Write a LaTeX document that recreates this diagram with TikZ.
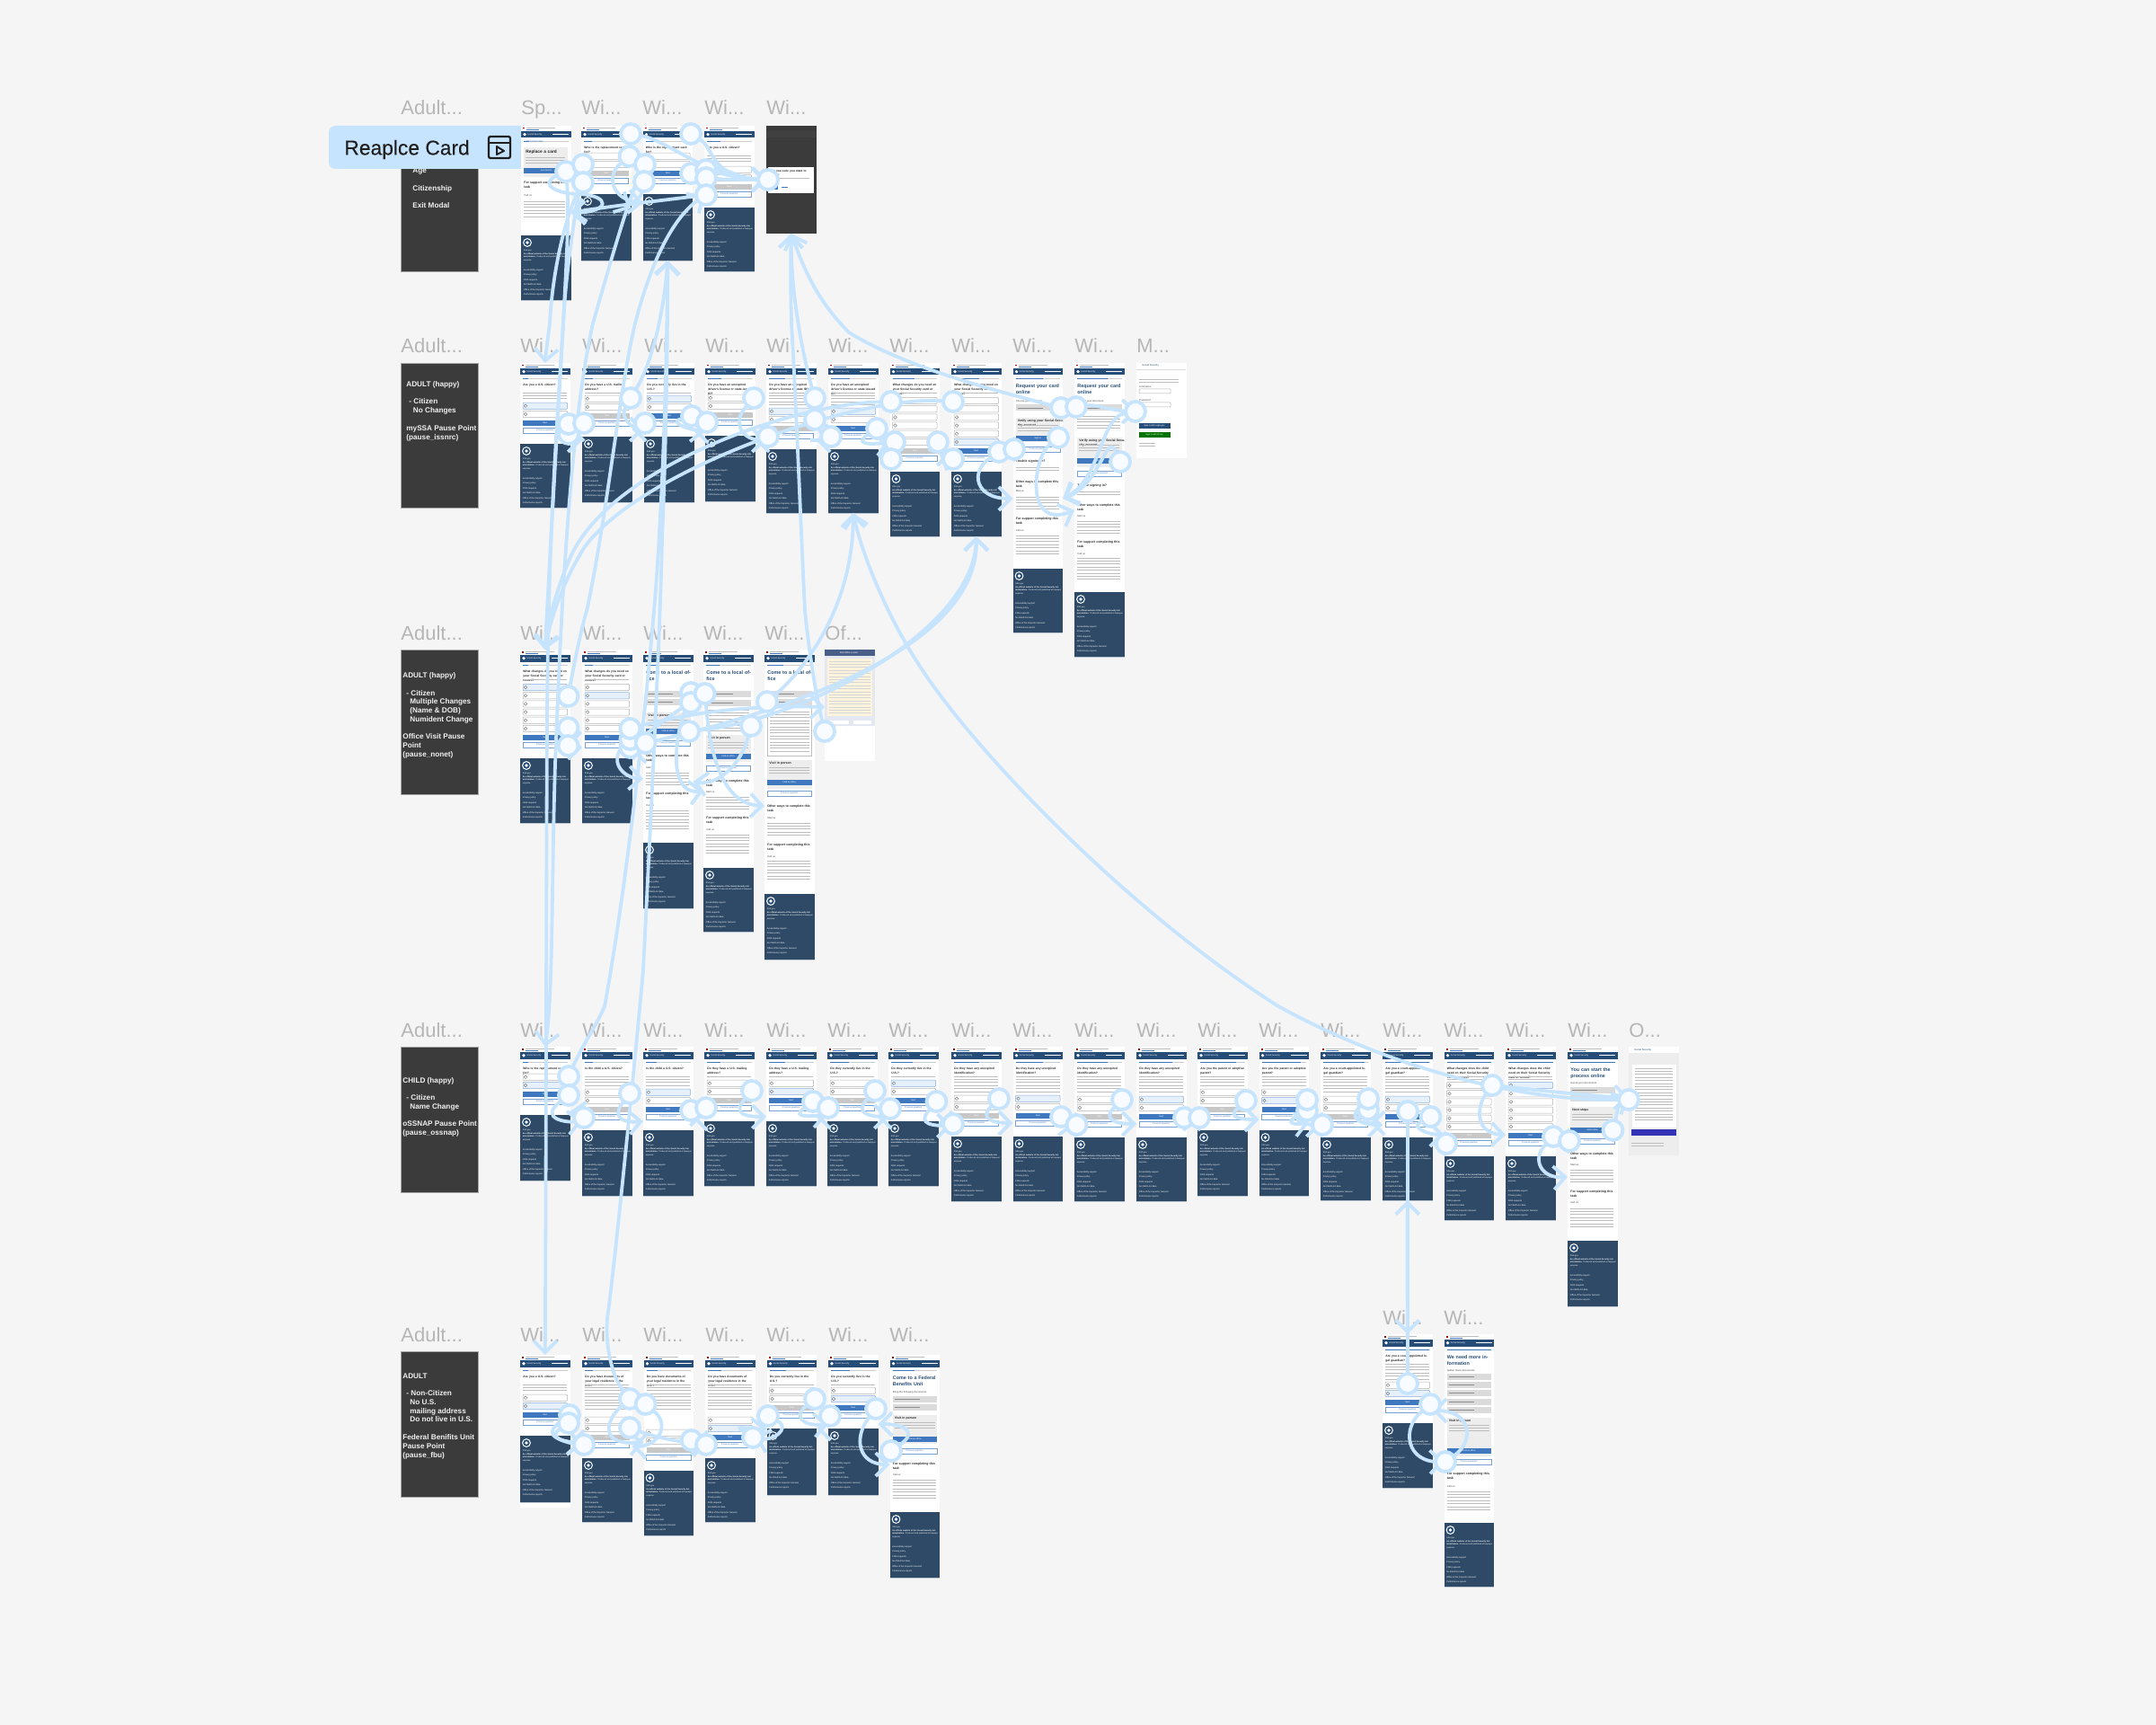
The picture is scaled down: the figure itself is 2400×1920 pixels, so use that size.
\documentclass[tikz,border=0pt]{standalone}
\usepackage{fontspec}
\setmainfont{Liberation Sans}
\newfontfamily\medf[FakeBold=0.25]{Liberation Sans}
\usetikzlibrary{arrows.meta}
\pgfdeclarelayer{scr}\pgfdeclarelayer{conn}\pgfsetlayers{scr,conn,main}
\definecolor{bgc}{HTML}{F5F5F5}
\definecolor{cblue}{HTML}{C6E4FD}
\definecolor{cfill}{HTML}{F8FBFF}
\definecolor{navy}{HTML}{2E4A66}
\definecolor{band}{HTML}{264D78}
\definecolor{dark}{HTML}{3B3B3B}
\definecolor{lab}{HTML}{B6B6B6}
\definecolor{ssab}{HTML}{3F78BE}
\definecolor{sel}{HTML}{E6F0FA}
\definecolor{ofh}{HTML}{4A5F87}
\definecolor{ofy}{HTML}{FDF3DC}
\definecolor{ofb}{HTML}{E4E8F2}
\newcounter{nn}
\newcommand\tn[2][]{\stepcounter{nn}\node[#1] (t\arabic{nn}) #2;}
\tikzset{
 screen/.style={fill=white,anchor=north west,inner sep=0pt,outer sep=0pt,minimum width=27.75pt},
 darkbox/.style={fill=dark,draw=gray!70,line width=.3pt,anchor=north west,inner sep=0pt,outer sep=0pt,minimum width=43.25pt},
 lbl/.style={text=lab,font=\fontsize{11}{13}\selectfont,anchor=base west,inner sep=0pt},
 dtx/.style={text=white!94!black,font=\fontsize{4.1}{5}\selectfont\bfseries,anchor=west,inner sep=0pt},
 qt/.style={anchor=north west,inner sep=0pt,text width=24.75pt,align=left,text=black!85,font=\fontsize{1.65}{2.4}\selectfont\bfseries},
 bigt/.style={anchor=north west,inner sep=0pt,text width=26pt,align=left,text=band,font=\fontsize{2.7}{3.5}\selectfont\bfseries},
 hd/.style={anchor=north west,inner sep=0pt,text width=26pt,align=left,text=black!85,font=\fontsize{1.75}{2.4}\selectfont\bfseries},
 small/.style={anchor=west,inner sep=0pt,text=black!70,font=\fontsize{1.4}{1.8}\selectfont},
 ftx/.style={anchor=north west,inner sep=0pt,text width=25.5pt,align=left,text=white,font=\fontsize{1.12}{1.75}\selectfont},
 lnk/.style={anchor=north west,inner sep=0pt,align=left,text=white,font=\fontsize{1.2}{2.75}\selectfont},
 bt/.style={inner sep=0pt,text=white,font=\fontsize{1.2}{1.6}\selectfont},
 bp/.style={inner sep=0pt,text=ssab,font=\fontsize{1.2}{1.6}\selectfont},
 tl/.style={draw=black!26,line width=.4pt},
 optb/.style={draw=black!30,fill=white,line width=.25pt,rounded corners=.4pt},
 opts/.style={draw=ssab!60,fill=sel,line width=.25pt,rounded corners=.4pt},
 dot/.style={circle,draw=cblue,fill=cfill,line width=1.9pt,minimum size=11pt,inner sep=0pt},
 conn/.style={draw=cblue,line width=1.9pt,line cap=round,-{Straight Barb[length=6.5pt,width=13pt]}},
}
\newcommand\para[4]{\foreach \i in {1,...,#4}{\draw[tl] ({#1},{#2+3.4*(\i-1)}) -- ++({#3},0);}}
\newcommand\hdr[2]{%
 \fill[red!70!black] ({#1+2},{#2+2}) rectangle ++(2,1.5);
 \draw[tl,line width=.3pt] ({#1+6},{#2+2.5}) -- ++(32,0);
 \draw[draw=ssab,line width=.3pt] ({#1+6},{#2+4.5}) -- ++(14,0);
 \fill[band] ({#1},{#2+6}) rectangle ({#1+55.5},{#2+13.5});
 \fill[white] ({#1+4},{#2+9.7}) circle[radius=.9pt];
 \tn[bt,anchor=west]{at ({#1+7},{#2+9.7}) {Social Security}}
 \draw[white,line width=.3pt] ({#1+35},{#2+9.7}) -- ++(18,0);
 \pgfmathsetmacro\pr{min(49.5,6+(#1-579)*0.045)}
 \draw[black!20,line width=.35pt] ({#1+3},{#2+17}) -- ++(49.5,0);
 \draw[ssab,line width=.45pt] ({#1+3},{#2+17}) -- ++(\pr,0);
}
\newcommand\ftr[3]{%
 \fill[navy] ({#1},{#2}) rectangle ({#1+55.5},{#3});
 \draw[white!70!navy,line width=.3pt] ({#1},{#3}) -- ++(55.5,0);
 \draw[white,fill=band,line width=.5pt] ({#1+7},{#2+8}) circle[radius=2.2pt];
 \fill[white] ({#1+7},{#2+8}) circle[radius=.9pt];
 \tn[ftx]{at ({#1+2.5},{#2+16}) {SSA.gov\\\textbf{An official website of the Social Security Administration.} Produced and published at taxpayer expense.}}
 \tn[lnk]{at ({#1+2.5},{#2+37}) {Accessibility support\\Privacy policy\\FOIA requests\\No FEAR Act data\\Office of the Inspector General\\Performance reports}}
}
\newcommand\btn[3]{\fill[ssab] ({#1+3},{#2-3}) rectangle ({#1+52.5},{#2+3}); \tn[bt]{at ({#1+27.75},{#2}) {#3}}}
\newcommand\gbtn[2]{\fill[black!22] ({#1+3},{#2-3}) rectangle ({#1+52.5},{#2+3}); \tn[bt]{at ({#1+27.75},{#2}) {Next}}}
\newcommand\prevb[2]{\draw[ssab!70,fill=white,line width=.25pt] ({#1+3},{#2-3}) rectangle ({#1+52.5},{#2+3}); \tn[bp]{at ({#1+27.75},{#2}) {Previous question}}}
\newcommand\ddn[2]{\fill[black!14] ({#1+3},{#2-3.5}) rectangle ({#1+52.5},{#2+3.5}); \draw[tl,line width=.3pt,draw=black!45] ({#1+5},{#2}) -- ++(28,0);}
\newcommand\pnl[4]{\fill[black!7] ({#1+3},{#2}) rectangle ({#1+52.5},{#3}); \tn[hd]{at ({#1+5},{#2+2}) {#4}}\para{#1+5}{#2+8}{45}{3}}
\newcommand\hdg[3]{\tn[hd]{at ({#1+3},{#2}) {#3}}}
\newcommand\lbb[3]{\tn[small]{at ({#1+3},{#2}) {#3}}}
% question screen: id x top ftop fbot title n sel act
\newcommand\Q[9]{%
 \node[screen,minimum height={(#5-#3)*0.5pt}] (#1) at (#2,#3) {};
 \hdr{#2}{#3}
 \tn[qt]{at ({#2+3},{#3+23}) {#6}}
 \pgfmathtruncatemacro\nl{min(9,max(0,(#4-23-10-9.2*(#7-1)-4-(#3+32))/3.4))}
 \ifnum\nl>0 \para{#2+3}{#3+33}{49}{\nl}\fi
 \foreach \k in {1,...,#7}{%
  \pgfmathsetmacro\yy{#4-33-9.2*(#7-\k)}
  \ifnum\k=#8 \path[opts] ({#2+3},{\yy-3.6}) rectangle ({#2+52.5},{\yy+3.6});
  \else \path[optb] ({#2+3},{\yy-3.6}) rectangle ({#2+52.5},{\yy+3.6}); \fi
  \draw[black!50,line width=.25pt] ({#2+6},{\yy}) circle[radius=.9pt];
 }
 \ifnum#9=1 \btn{#2}{#4-23}{Next}\else\gbtn{#2}{#4-23}\fi
 \prevb{#2}{#4-15}
 \ftr{#2}{#4}{#5}
}
% long page: id x top ftop fbot title
\newcommand\LP[6]{%
 \node[screen,minimum height={(#5-#3)*0.5pt}] (#1) at (#2,#3) {};
 \hdr{#2}{#3}
 \tn[bigt]{at ({#2+3},{#3+23}) {#6}}
 \ftr{#2}{#4}{#5}
}
\newcommand\dt[3]{\tn[dtx]{at (#1,#2) {#3}}}
\newcommand\dd[3]{\node[dot] (#1) at (#2,#3) {};}
\newcommand\cw[5]{\draw[conn] (#1) .. controls #2 and #3 .. (#4.west |- 0,#5);}
\newcommand\ce[5]{\draw[conn] (#1) .. controls #2 and #3 .. (#4.east |- 0,#5);}
\newcommand\cs[4]{\draw[conn] (#1) .. controls #2 and #3 .. (#4.south);}
\newcommand\cp[3]{\draw[conn] (#1) #2 (#3);}
\newcommand\wilabel[2]{\tn[lbl]{at (#1,#2) {Wi{.}{.}{.}}}}
\newcommand\otlabel[3]{\tn[lbl]{at (#1,#2) {#3{.}{.}{.}}}}
\begin{document}
\begin{tikzpicture}[x=0.5pt,y=-0.5pt]
\useasboundingbox (0,0) rectangle (2400,1920);
\begin{pgfonlayer}{scr}
\fill[bgc] (0,0) rectangle (2400,1920);
% ---------- labels
\foreach \yy in {128,393,712,1154,1493}{\otlabel{446}{\yy}{Adult}}
\otlabel{580}{128}{Sp}
\foreach \xx in {647,715,784,853}{\wilabel{\xx}{128}}
\foreach \xx in {579,648,717,785,853,922,990,1059,1127,1196}{\wilabel{\xx}{393}}
\otlabel{1265}{393}{M}
\foreach \xx in {579,648,716,783,851}{\wilabel{\xx}{712}}
\otlabel{918}{712}{Of}
\foreach \xx in {579,648,716,784,853,921,989,1059,1127,1196,1265,1333,1401,1470,1539,1607,1676,1745}{\wilabel{\xx}{1154}}
\otlabel{1813}{1154}{O}
\foreach \xx in {579,648,716,785,853,922,990}{\wilabel{\xx}{1493}}
\foreach \xx in {1539,1607}{\wilabel{\xx}{1474}}
% ---------- dark boxes
\node[darkbox,minimum height=80.5pt] (k1) at (446,141) {};
\dt{459}{191}{Age}\dt{459}{210}{Citizenship}\dt{459}{229}{Exit Modal}
\node[darkbox,minimum height=80.5pt] (k2) at (446,404) {};
\dt{452}{428}{ADULT (happy)}\dt{455}{447}{- Citizen}\dt{459.5}{457}{No Changes}\dt{452}{477}{mySSA Pause Point}\dt{452}{487}{(pause\_issnrc)}
\node[darkbox,minimum height=80.5pt] (k3) at (446,723) {};
\dt{448}{752}{ADULT (happy)}\dt{452}{772}{- Citizen}\dt{456}{781.5}{Multiple Changes}\dt{456}{791}{(Name \& DOB)}\dt{456}{801}{Numident Change}\dt{448}{820}{Office Visit Pause}\dt{448}{830}{Point}\dt{448}{840}{(pause\_nonet)}
\node[darkbox,minimum height=81pt] (k4) at (446,1165) {};
\dt{448}{1203}{CHILD (happy)}\dt{452}{1222}{- Citizen}\dt{456}{1232}{Name Change}\dt{448}{1251}{oSSNAP Pause Point}\dt{448}{1261}{(pause\_ossnap)}
\node[darkbox,minimum height=81pt] (k5) at (446,1504) {};
\dt{448}{1532}{ADULT}\dt{452}{1551}{- Non-Citizen}\dt{456}{1561}{No U.S.}\dt{456}{1571}{mailing address}\dt{456}{1580}{Do not live in U.S.}\dt{448}{1600}{Federal Benifits Unit}\dt{448}{1610}{Pause Point}\dt{448}{1620}{(pause\_fbu)}
% ---------- row 1
\LP{s11}{580}{140}{262}{334}{}
\tn[small]{at (583,158) {\textcolor{ssab}{< Social Security}}}
\fill[black!7] (583,164) rectangle (632,197);
\tn[hd,font=\fontsize{2.4}{3}\selectfont\bfseries]{at (585,167) {Replace a card}}
\para{585}{175}{44}{3}\btn{580}{190}{Get started}
\hdg{580}{202}{For support completing this task}\lbb{580}{218}{Call us}\para{583}{224}{46}{6}
\Q{s12}{647}{140}{216}{290}{Who is the replacement card for?}{2}{0}{0}
\Q{s13}{715.5}{140}{216}{290}{Who is the replacement card for?}{2}{0}{1}
\Q{s14}{784}{140}{231}{302}{Are you a U.S. citizen?}{2}{0}{0}
\node[screen,fill=dark,minimum height=60pt] (s15) at (853,140) {};
\fill[black!75] (853,146) rectangle (908.5,153);
\fill[white] (855,186) rectangle (906,215);
\tn[qt,text width=24pt]{at (857,189) {Are you sure you want to leave?}}
\para{857}{198}{44}{1}
\fill[ssab] (857,205) rectangle (866,211);\draw[ssab,line width=.4pt] (870,208) -- ++(7,0);
% ---------- row 2
\Q{s21}{579}{404}{494}{565}{Are you a U.S. citizen?}{2}{1}{1}
\Q{s22}{648}{404}{486}{559}{Do you have a U.S. mailing address?}{2}{0}{0}
\Q{s23}{717}{404}{486}{559}{Do you currently live in the U.S.?}{2}{1}{1}
\Q{s24}{785}{404}{485}{558}{Do you have an unexpired driver's license or state-issued ID?}{2}{0}{0}
\Q{s25}{853}{404}{500}{571}{Do you have an unexpired driver's license or state ID?}{2}{1}{0}
\Q{s26}{922}{404}{500}{571}{Do you have an unexpired driver's license or state-issued ID?}{2}{1}{1}
\Q{s27}{990.5}{404}{525}{597}{What changes do you need on your Social Security card or record?}{6}{0}{0}
\Q{s28}{1059}{404}{525}{597}{What changes do you need on your Social Security card or record?}{6}{6}{1}
\LP{s29}{1127.5}{404}{633}{704}{Request your card online}
\ddn{1127.5}{454}\lbb{1127.5}{447}{Choose your document}\pnl{1127.5}{465}{492}{Verify using your Social Security account}\btn{1127.5}{488}{Sign in}\prevb{1127.5}{500}
\hdg{1127.5}{512}{Trouble signing in?}\para{1130.5}{520}{48}{2}\hdg{1127.5}{535}{Other ways to complete this task}\lbb{1127.5}{547}{Mail us}\para{1130.5}{553}{48}{5}
\hdg{1127.5}{576}{For support completing this task}\lbb{1127.5}{590}{Call us}\para{1130.5}{596}{48}{7}
\LP{s210}{1196}{404}{659}{731}{Request your card online}
\ddn{1196}{454}\lbb{1196}{447}{Choose your document}\para{1199}{463}{48}{5}\pnl{1196}{487}{520}{Verify using your Social Security account}\btn{1196}{513}{Sign in}\prevb{1196}{527}
\hdg{1196}{539}{Trouble signing in?}\para{1199}{547}{48}{2}\hdg{1196}{561}{Other ways to complete this task}\lbb{1196}{574}{Mail us}\para{1199}{580}{48}{5}
\hdg{1196}{602}{For support completing this task}\lbb{1196}{616}{Call us}\para{1199}{621}{48}{8}
\node[screen,minimum height=53pt] (s211) at (1265,404) {};
\tn[small,text=band]{at (1271,407) {Social Security}}
\draw[black!15,line width=.25pt] (1265,411) -- ++(55,0);
\para{1268}{422}{44}{2}\lbb{1265}{431}{Username}\path[optb] (1268,433) rectangle (1303,438);
\lbb{1265}{446}{Password}\path[optb] (1268,448) rectangle (1303,453);
\fill[band] (1268,471) rectangle (1303,477);\tn[bt]{at (1285,474) {Sign in with Login.gov}}
\fill[green!45!black] (1268,481) rectangle (1303,487);\tn[bt]{at (1285,484) {Sign in with ID.me}}
\para{1268}{493}{18}{2}
% ---------- row 3
\Q{s31}{579}{723}{844}{916}{What changes do you need on your Social Security card or record?}{6}{1}{1}
\Q{s32}{648}{723}{844}{916}{What changes do you need on your Social Security card or record?}{6}{2}{1}
\LP{s33}{716}{723}{938}{1011}{Come to a local office}
\ddn{716}{772}\ddn{716}{781}\pnl{716}{793}{818}{Visit in person}\btn{716}{814}{Find an office}\prevb{716}{827}
\hdg{716}{840}{Other ways to complete this task}\lbb{716}{854}{Mail us}\para{719}{860}{48}{5}\hdg{716}{882}{For support completing this task}\lbb{716}{896}{Call us}\para{719}{902}{48}{7}
\LP{s34}{783}{723}{966}{1037}{Come to a local office}
\ddn{783}{772}\ddn{783}{782}\para{786}{790}{48}{8}\pnl{783}{818}{848}{Visit in person}\btn{783}{842}{Find an office}\prevb{783}{855}
\hdg{783}{868}{Other ways to complete this task}\lbb{783}{881}{Mail us}\para{786}{887}{48}{5}\hdg{783}{909}{For support completing this task}\lbb{783}{923}{Call us}\para{786}{929}{48}{7}
\LP{s35}{851}{723}{995}{1068}{Come to a local office}
\ddn{851}{772}\ddn{851}{781}\draw[black!25,line width=.25pt] (854,787) rectangle (903,841);\para{857}{792}{44}{14}\pnl{851}{846}{878}{Visit in person}\btn{851}{871}{Find an office}\prevb{851}{883}
\hdg{851}{896}{Other ways to complete this task}\lbb{851}{910}{Mail us}\para{854}{916}{48}{5}\hdg{851}{939}{For support completing this task}\lbb{851}{953}{Call us}\para{854}{958}{48}{7}
\node[screen,minimum height=62pt] (s36) at (918,723) {};
\fill[ofb] (918,723) rectangle (973.5,808);
\fill[ofh] (918,723) rectangle (973.5,730);
\tn[bt]{at (945,726.5) {SSA Office Locator}}
\fill[ofy] (921,733) rectangle (971,797);
\foreach \yo in {736,739.4,...,795}{\draw[black!16,line width=.35pt] (923,\yo) -- (969,\yo);}
\fill[white] (921,802) rectangle (945,806);\fill[white] (950,802) rectangle (970,806);
% ---------- row 4
\Q{s41}{579}{1165}{1241}{1314}{Who is the replacement card for?}{2}{2}{1}
\Q{s42}{648}{1165}{1258}{1331}{Is the child a U.S. citizen?}{2}{0}{0}
\Q{s43}{716}{1165}{1258}{1331}{Is the child a U.S. citizen?}{2}{1}{1}
\Q{s44}{784}{1165}{1248}{1320}{Do they have a U.S. mailing address?}{2}{0}{0}
\Q{s45}{853}{1165}{1248}{1320}{Do they have a U.S. mailing address?}{2}{2}{1}
\Q{s46}{921}{1165}{1248}{1320}{Do they currently live in the U.S.?}{2}{0}{0}
\Q{s47}{989}{1165}{1248}{1320}{Do they currently live in the U.S.?}{2}{1}{1}
\Q{s48}{1059}{1165}{1265}{1337}{Do they have any unexpired identification?}{2}{0}{0}
\Q{s49}{1127.5}{1165}{1265}{1337}{Do they have any unexpired identification?}{2}{1}{1}
\Q{s410}{1196}{1165}{1266}{1337}{Do they have any unexpired identification?}{2}{0}{0}
\Q{s411}{1265}{1165}{1266}{1337}{Do they have any unexpired identification?}{2}{1}{1}
\Q{s412}{1333}{1165}{1258}{1331}{Are you the parent or adoptive parent?}{2}{0}{0}
\Q{s413}{1401.5}{1165}{1258}{1331}{Are you the parent or adoptive parent?}{2}{2}{1}
\Q{s414}{1470}{1165}{1266}{1336}{Are you a court-appointed legal guardian?}{2}{0}{0}
\Q{s415}{1539}{1165}{1266}{1336}{Are you a court-appointed legal guardian?}{2}{1}{1}
\Q{s416}{1607.5}{1165}{1287}{1358}{What changes does the child need on their Social Security card or record?}{6}{0}{0}
\Q{s417}{1676}{1165}{1287}{1358}{What changes does the child need on their Social Security card or record?}{6}{1}{1}
\LP{s418}{1745}{1165}{1381}{1454}{You can start the process online}
\ddn{1745}{1213}\ddn{1745}{1222}\lbb{1745}{1206}{Get all your documents}\pnl{1745}{1232}{1262}{Next steps}\btn{1745}{1258}{Start online}\prevb{1745}{1270}
\hdg{1745}{1283}{Other ways to complete this task}\lbb{1745}{1296}{Mail us}\para{1748}{1302}{48}{5}\hdg{1745}{1325}{For support completing this task}\lbb{1745}{1338}{Call us}\para{1748}{1345}{48}{7}
\node[screen,fill=black!7,minimum height=60.5pt] (s419) at (1813,1165) {};
\fill[white] (1813,1165) rectangle (1869,1172);
\tn[small,text=band]{at (1819,1168.5) {Social Security}}
\fill[white] (1817,1185) rectangle (1866,1255);
\para{1820}{1189}{42}{18}
\fill[blue!65!black!80!white] (1816,1257) rectangle (1866,1264);
\para{1816}{1272}{36}{2}
% ---------- row 5
\fill[white] (579,1672) rectangle (634.5,1678);
\Q{s51}{579}{1508}{1598}{1672}{Are you a U.S. citizen?}{2}{2}{1}
\Q{s52}{648}{1508}{1623}{1694}{Do you have documents of your legal residence in the U.S.?}{2}{0}{0}
\Q{s53}{716.5}{1508}{1637}{1709}{Do you have documents of your legal residence in the U.S.?}{2}{0}{0}
\Q{s54}{785}{1508}{1623}{1694}{Do you have documents of your legal residence in the U.S.?}{2}{2}{1}
\Q{s55}{853.5}{1508}{1590}{1664}{Do you currently live in the U.S.?}{2}{0}{0}
\Q{s56}{922}{1508}{1590}{1664}{Do you currently live in the U.S.?}{2}{2}{1}
\LP{s57}{990.5}{1508}{1683}{1756}{Come to a Federal Benefits Unit}
\lbb{990.5}{1550}{Bring the following documents}\ddn{990.5}{1557}\ddn{990.5}{1566}\pnl{990.5}{1575}{1607}{Visit in person}\btn{990.5}{1602}{Find an office}\prevb{990.5}{1615}
\hdg{990.5}{1628}{For support completing this task}\lbb{990.5}{1641}{Call us}\para{993.5}{1647}{48}{7}
\Q{xa}{1539}{1485}{1584}{1656}{Are you a court-appointed legal guardian?}{2}{2}{1}
\LP{xb}{1607.5}{1485}{1695}{1766}{We need more information}
\lbb{1607.5}{1525}{Gather these documents}\foreach \yq in {1532,1541,1550,1560,1569}{\ddn{1607.5}{\yq}}
\pnl{1607.5}{1578}{1621}{Visit in person}\btn{1607.5}{1615}{Find an office}\prevb{1607.5}{1627}
\hdg{1607.5}{1639}{For support completing this task}\lbb{1607.5}{1654}{Call us}\para{1610.5}{1660}{48}{7}
% ---------- title banner
\path[fill=cblue] (580,140) -- (374,140) .. controls (369,140) and (366,143) .. (366,148) -- (366,180) .. controls (366,185) and (369,188) .. (374,188) -- (580,188) -- cycle;
\node[anchor=west,inner sep=0pt,text=black!88,font=\medf\fontsize{11.4}{13}\selectfont] (ttl) at (383,166.5) {Reaplce Card};
\draw[black!88,line width=1.1pt,rounded corners=1pt] (544,152) rectangle (568,176);
\draw[black!88,line width=1.1pt] (544,159) -- (568,159);
\draw[black!88,line width=1pt,line join=round] (553,163) -- (561,168) -- (553,172) -- cycle;
\end{pgfonlayer}
% ---------- circles
\dd{a1}{630}{191}\dd{a2}{649}{183}\dd{a3}{649}{203}\dd{a4}{702}{149}\dd{a5}{700.5}{174}\dd{a6}{718}{183}\dd{a7}{717}{202}\dd{a8}{769}{149}\dd{a9}{769}{193}\dd{a10}{786}{189}\dd{a11}{786}{198}\dd{a12}{786}{217}\dd{a13}{855}{200}
\dd{bx}{633}{483}\dd{b1}{633}{472}\dd{b2}{650}{471}\dd{b3}{702}{443}\dd{b4}{718}{471}\dd{b5}{770}{463}\dd{b6}{787}{470}\dd{b7}{839}{443}\dd{b8}{855}{486}\dd{b9}{907}{443}\dd{b10}{907}{467}\dd{b11}{925}{486}\dd{b12}{976}{477}\dd{b13}{992}{447}\dd{b14}{996}{492}\dd{b15}{992}{511}\dd{b16}{1044}{492}\dd{b17}{1061}{447}\dd{b18}{1061}{511}\dd{b19}{1112}{503}\dd{b20}{1129}{500}\dd{b21}{1181}{454}\dd{b22}{1198}{453}\dd{b23}{1178}{487}\dd{b24}{1264}{458}\dd{b25}{1247}{514}
\dd{c1}{632.5}{775}\dd{c2}{632.5}{810}\dd{c3}{632.5}{830}\dd{c6}{701.4}{832}\dd{c5}{701.4}{823}\dd{c4}{701.4}{811}\dd{c7}{718.6}{827}\dd{c8}{769}{771}\dd{c10}{769}{782}\dd{c9}{784.6}{772}\dd{c11}{767}{814}\dd{c12}{854}{781}\dd{c13}{836}{808}\dd{c14}{918}{814}
\dd{d1}{633}{1198}\dd{d2}{633}{1219}\dd{d3}{650}{1244}\dd{d4}{701}{1217}\dd{d5}{769}{1236}\dd{d6}{786}{1233}\dd{d7}{837}{1214}\dd{d8}{905}{1226}\dd{d9}{922}{1233}\dd{d10}{974}{1214}\dd{d11}{991}{1234}\dd{d12}{1042.5}{1226}\dd{d13}{1061}{1251}\dd{d14}{1112}{1223}\dd{d15}{1181}{1243}\dd{d16}{1198.5}{1252}\dd{d17}{1249}{1224}\dd{d18}{1318}{1244}\dd{d19}{1335}{1244}\dd{d20}{1387}{1225}\dd{d22}{1455}{1236}\dd{d21}{1455}{1224}\dd{d23}{1472}{1252}\dd{d25}{1523}{1235}\dd{d24}{1523}{1223}\dd{d26}{1567}{1237}\dd{d27}{1592.5}{1243}\dd{d28}{1610}{1273}\dd{d29}{1661}{1208}\dd{d30}{1729}{1265}\dd{d31}{1747}{1270}\dd{d32}{1795.5}{1258}\dd{d33}{1813}{1224}
\dd{e1}{634}{1575}\dd{e2}{633}{1584}\dd{e3}{650}{1608}\dd{e4}{701}{1557}\dd{e5}{718.6}{1563}\dd{e6}{701}{1589}\dd{e7}{769.6}{1603}\dd{e8}{786}{1608}\dd{e9}{838}{1600}\dd{e10}{855}{1576}\dd{e11}{907}{1557}\dd{e12}{924}{1576}\dd{e13}{975}{1568}\dd{e14}{992}{1615}
\dd{x1}{1567}{1540}\dd{x2}{1592}{1563}\dd{x3}{1609}{1627}
% ---------- connectors
\begin{pgfonlayer}{conn}
% row 1
\cp{a1}{.. controls (600,205) and (620,216) .. (645,216) .. controls (680,218) and (680,236) ..}{s11.east |- 0,237}
\ce{a12}{(720,225)}{(660,232)}{s11}{237}
\cp{a2}{.. controls (640,240) and (630,300) .. (627,360) .. controls (620,480) and (612,620) ..}{s31.north}
\cp{a3}{.. controls (630,240) and (615,300) .. (612,360) .. controls (610,375) and (608,390) ..}{s21.north}
\cp{a1}{.. controls (634,240) and (630,300) .. (627,360) .. controls (618,500) and (610,620) .. (609,800) .. controls (608,1000) and (608,1300) ..}{s51.north}
\cp{a6}{.. controls (700,220) and (680,290) .. (660,360) .. controls (640,450) and (628,600) .. (620,800) .. controls (613,950) and (617,1100) ..}{s41.north}
\cw{a4}{(745,157)}{(790,200)}{s15}{200}
\cw{a8}{(795,165)}{(790,198)}{s15}{200}
\cw{a9}{(800,180)}{(820,200)}{s15}{200}
\cw{a10}{(810,195)}{(830,200)}{s15}{200}
\cw{a11}{(810,200)}{(830,200)}{s15}{200}
\cw{a5}{(675,195)}{(680,222)}{s13}{226}
\ce{a7}{(712,225)}{(695,228)}{s12}{232}
% row 2
\cw{b1}{(640,478)}{(645,478)}{s22}{478}
\cw{bx}{(640,488)}{(645,490)}{s22}{490}
\ce{b2}{(645,478)}{(640,478)}{s21}{478}
\cw{b3}{(690,465)}{(705,478)}{s23}{478}
\ce{b4}{(712,478)}{(708,478)}{s22}{478}
\cw{b5}{(745,470)}{(765,478)}{s24}{480}
\ce{b6}{(780,476)}{(778,480)}{s23}{480}
\cw{b7}{(815,470)}{(825,490)}{s25}{490}
\ce{b8}{(848,490)}{(845,490)}{s24}{490}
\cw{b10}{(912,478)}{(918,488)}{s26}{492}
\ce{b11}{(918,490)}{(914,490)}{s25}{490}
\cw{b12}{(950,495)}{(970,495)}{s27}{492}
\ce{b14}{(990,496)}{(985,490)}{s26}{488}
\ce{b15}{(986,510)}{(982,506)}{s26}{505}
\cw{b16}{(1035,500)}{(1045,505)}{s28}{505}
\ce{b18}{(1056,510)}{(1052,508)}{s27}{505}
\cp{b13}{.. controls (880,450) and (680,520) .. (635,620) .. controls (620,655) and (610,690) ..}{s31.north}
\cp{b17}{.. controls (950,440) and (710,525) .. (650,610) .. controls (628,645) and (612,690) ..}{s31.north}
\cw{b19}{(1080,525)}{(1085,555)}{s29}{555}
\ce{b20}{(1125,500)}{(1122,500)}{s28}{500}
\cw{b22}{(1220,450)}{(1240,458)}{s211}{458}
\cw{b23}{(1150,510)}{(1140,590)}{s210}{568}
\ce{b24}{(1225,465)}{(1225,535)}{s29}{555}
\ce{b25}{(1232,480)}{(1225,540)}{s29}{555}
\cs{b3}{(722,410)}{(738,360)}{s13}
\cs{b9}{(895,400)}{(880,330)}{s15}
\cp{b21}{.. controls (1110,435) and (1010,410) .. (945,370) .. controls (910,335) and (895,300) ..}{s15.south}
% row 3
\cp{c1}{.. controls (640,735) and (647,700) .. (653,680) .. controls (675,580) and (690,430) .. (707,360) .. controls (725,290) and (750,240) ..}{s14.west |- 0,218}
\cw{c2}{(640,815)}{(644,816)}{s32}{816}
\cw{c3}{(640,832)}{(644,832)}{s32}{832}
\cw{c4}{(780,790)}{(850,785)}{s36}{787}
\cw{c5}{(680,845)}{(690,865)}{s33}{867}
\ce{c6}{(702,834)}{(704,836)}{s32}{836}
\ce{c10}{(740,800)}{(725,815)}{s32}{825}
\cw{c8}{(745,840)}{(750,885)}{s34}{880}
\cw{c9}{(790,830)}{(800,895)}{s35}{897}
\ce{c13}{(825,850)}{(800,875)}{s33}{870}
\cs{c11}{(900,800)}{(1085,700)}{s28}
\cs{c7}{(880,790)}{(1090,720)}{s28}
\cs{c12}{(890,750)}{(950,680)}{s26}
\cp{c14}{.. controls (905,760) and (898,700) .. (896,680) .. controls (892,600) and (885,420) .. (881,360) .. controls (880,320) and (880,290) ..}{s15.south}
% row 4
\cp{d1}{.. controls (650,1160) and (665,1140) .. (673,1120) .. controls (695,1000) and (715,830) .. (728,680) .. controls (735,600) and (742,450) ..}{s13.south}
\cw{d2}{(600,1245)}{(630,1250)}{s42}{1248}
\ce{d3}{(645,1240)}{(640,1238)}{s41}{1237}
\cw{d4}{(680,1245)}{(695,1250)}{s43}{1248}
\cw{d5}{(775,1240)}{(780,1240)}{s44}{1240}
\ce{d6}{(780,1240)}{(776,1245)}{s43}{1245}
\cw{d7}{(815,1240)}{(830,1243)}{s45}{1243}
\cw{d8}{(880,1245)}{(905,1242)}{s46}{1241}
\ce{d9}{(915,1240)}{(913,1243)}{s45}{1243}
\cw{d10}{(950,1240)}{(970,1243)}{s47}{1243}
\ce{d11}{(985,1240)}{(980,1243)}{s46}{1243}
\cw{d12}{(1020,1252)}{(1040,1253)}{s48}{1253}
\ce{d13}{(1056,1250)}{(1052,1250)}{s47}{1250}
\cw{d14}{(1090,1245)}{(1105,1250)}{s49}{1250}
\cw{d15}{(1185,1248)}{(1190,1252)}{s410}{1253}
\ce{d16}{(1192,1252)}{(1190,1252)}{s49}{1252}
\cw{d17}{(1228,1245)}{(1240,1251)}{s411}{1251}
\cw{d18}{(1325,1244)}{(1328,1245)}{s412}{1245}
\ce{d19}{(1328,1244)}{(1325,1245)}{s411}{1245}
\cw{d20}{(1365,1245)}{(1385,1246)}{s413}{1246}
\cw{d21}{(1435,1250)}{(1455,1252)}{s414}{1252}
\ce{d22}{(1430,1250)}{(1440,1252)}{s413}{1250}
\ce{d23}{(1467,1252)}{(1463,1252)}{s413}{1252}
\cw{d24}{(1500,1245)}{(1515,1252)}{s415}{1252}
\ce{d25}{(1505,1250)}{(1530,1250)}{s414}{1250}
\cw{d27}{(1570,1255)}{(1590,1263)}{s416}{1263}
\ce{d28}{(1605,1273)}{(1600,1273)}{s415}{1273}
\cw{d29}{(1645,1230)}{(1640,1262)}{s417}{1263}
\cw{d30}{(1705,1290)}{(1715,1312)}{s418}{1310}
\ce{d31}{(1742,1270)}{(1738,1270)}{s417}{1270}
\cw{d32}{(1800,1240)}{(1800,1228)}{s419}{1222}
\cw{d29}{(1700,1212)}{(1770,1220)}{s419}{1222}
\cp{d33}{.. controls (1700,1225) and (1560,1195) .. (1423,1120) .. controls (1250,1010) and (1080,830) .. (1023,740) .. controls (990,690) and (960,620) ..}{s26.south}
\draw[conn] (d26) -- (xa.north);
\draw[conn] (x1) -- (s415.south);
\cw{x2}{(1560,1590)}{(1565,1628)}{xb}{1627}
\ce{x3}{(1640,1605)}{(1640,1570)}{xa}{1570}
% row 5
\cw{e1}{(600,1600)}{(630,1605)}{s52}{1606}
\cw{e2}{(610,1600)}{(630,1606)}{s52}{1608}
\ce{e3}{(646,1605)}{(642,1605)}{s51}{1605}
\cw{e4}{(675,1580)}{(665,1610)}{s53}{1605}
\ce{e5}{(745,1585)}{(735,1610)}{s52}{1610}
\cw{e6}{(730,1600)}{(770,1608)}{s54}{1605}
\cw{e7}{(775,1605)}{(780,1606)}{s54}{1606}
\ce{e8}{(780,1606)}{(777,1606)}{s53}{1606}
\cw{e9}{(815,1585)}{(835,1592)}{s55}{1590}
\ce{e10}{(880,1590)}{(860,1605)}{s54}{1600}
\cw{e11}{(885,1575)}{(890,1588)}{s56}{1585}
\ce{e12}{(920,1583)}{(915,1590)}{s55}{1590}
\cw{e13}{(950,1600)}{(955,1630)}{s57}{1630}
\ce{e14}{(1020,1595)}{(1010,1585)}{s56}{1585}
\cp{e4}{.. controls (680,1530) and (672,1490) .. (677,1460) .. controls (685,1400) and (705,1200) .. (716,1080) .. controls (725,900) and (735,700) .. (737,600) .. controls (742,480) and (743,380) ..}{s13.south}
\end{pgfonlayer}
\end{tikzpicture}
\end{document}
